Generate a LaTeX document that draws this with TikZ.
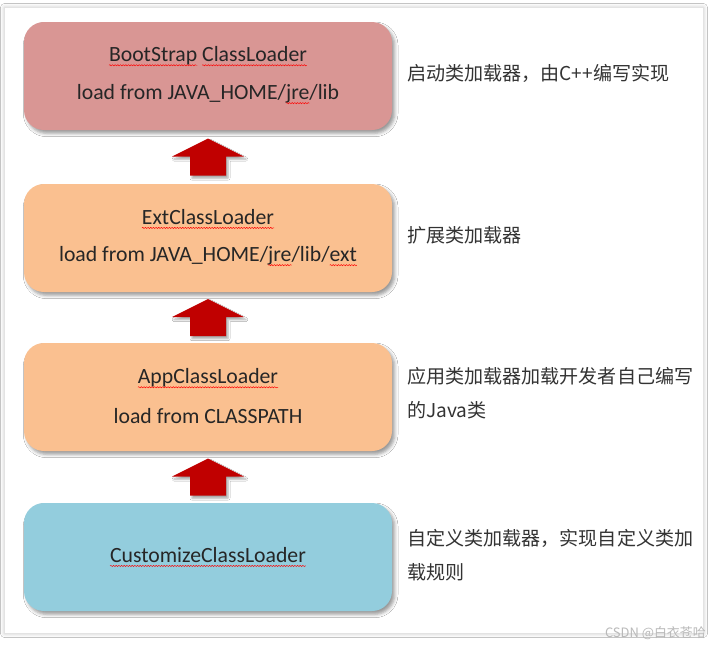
\documentclass[tikz,border=0pt]{standalone}
\usepackage{fontspec}
\setmainfont{Carlito}
\newfontfamily\cjk{Noto Sans CJK SC}
\usetikzlibrary{shadows.blur,calc,decorations.pathmorphing}
\definecolor{rose}{HTML}{D99694}
\definecolor{peach}{HTML}{FAC090}
\definecolor{aqua}{HTML}{93CDDD}
\definecolor{arrowred}{HTML}{C00000}
\definecolor{txt}{HTML}{262626}
\definecolor{note}{HTML}{333333}
\newcommand\sqwave[1]{\tikz[baseline=(w.base),x=1pt,y=1pt]{\node[inner sep=0pt,outer sep=0pt,anchor=base,draw=none,fill=none,rectangle,minimum size=0pt,text=txt](w){#1};\draw[overlay,red,line width=0.35pt,decorate,decoration={snake,amplitude=0.45pt,segment length=2pt}] ([yshift=-2.6pt]w.base west)--([yshift=-2.6pt]w.base east);}}
\tikzset{
  box/.style={rounded corners=15pt, minimum width=276pt, minimum height=81pt, inner sep=0pt,
    blur shadow={shadow xshift=2pt, shadow yshift=-2.5pt, shadow blur radius=2.5pt, shadow opacity=40}},
  lbl/.style={font=\fontsize{16.3}{19}\selectfont, text=txt, inner sep=0pt},
  notetext/.style={font=\cjk\fontsize{14.3}{25.5}\selectfont, text=note, inner sep=0pt, anchor=west, align=left},
  uparrow/.style={fill=arrowred, blur shadow={shadow xshift=1.5pt, shadow yshift=-2pt, shadow blur radius=1.5pt, shadow opacity=35}}
}
\begin{document}
\begin{tikzpicture}[x=0.75pt,y=-0.75pt]
\useasboundingbox (0,0) rectangle (716,646);
\fill[white] (0,0) rectangle (716,646);
% frame
\path[fill=white, draw=gray!22, line width=0.6pt,
  blur shadow={shadow xshift=0pt, shadow yshift=0pt, shadow blur radius=3pt, shadow opacity=25}]
  (4.5,7.5) rectangle (703.5,633.5);
% boxes
\node[box, fill=rose]  (b1) at (208,76)  {};
\node[box, fill=peach] (b2) at (208,238) {};
\node[box, fill=peach] (b3) at (208,397) {};
\node[box, fill=aqua]  (b4) at (208,557) {};
% box texts
\node[lbl] (b1l1) at (208,56)  {\sqwave{BootStrap} \sqwave{ClassLoader}};
\node[lbl] (b1l2) at (208,94)  {load from JAVA\_HOME/\sqwave{jre}/lib};
\node[lbl] (b2l1) at (208,217) {\sqwave{ExtClassLoader}};
\node[lbl] (b2l2) at (208,256) {load from JAVA\_HOME/\sqwave{jre}/lib/\sqwave{ext}};
\node[lbl] (b3l1) at (208,378) {\sqwave{AppClassLoader}};
\node[lbl] (b3l2) at (208,416) {load from CLASSPATH};
\node[lbl] (b4l1) at (208,555) {\sqwave{CustomizeClassLoader}};
% arrows
\coordinate (a1) at ($(b1.south)!0.5!(b2.north)$);
\coordinate (a2) at ($(b2.south)!0.5!(b3.north)$);
\coordinate (a3) at ($(b3.south)!0.5!(b4.north)$);
\foreach \a in {a1,a2,a3}{
  \path[uparrow] ($(\a)+(0,-18.5)$) -- ($(\a)+(36,-0.5)$) -- ($(\a)+(18,-0.5)$) -- ($(\a)+(18,18.5)$)
    -- ($(\a)+(-18,18.5)$) -- ($(\a)+(-18,-0.5)$) -- ($(\a)+(-36,-0.5)$) -- cycle;
}
% notes
\node[notetext] (n1) at (407,73)  {启动类加载器，由C++编写实现};
\node[notetext] (n2) at (407,235) {扩展类加载器};
\node[notetext] (n3) at (407,393.5) {应用类加载器加载开发者自己编写\\的Java类};
\node[notetext] (n4) at (407,555.5) {自定义类加载器，实现自定义类加\\载规则};
% watermark
\node[anchor=east, inner sep=0pt, text=gray!55, font=\cjk\fontsize{9.7}{11}\selectfont] (wm) at (706,633) {CSDN @白衣苍哈};
\end{tikzpicture}
\end{document}
